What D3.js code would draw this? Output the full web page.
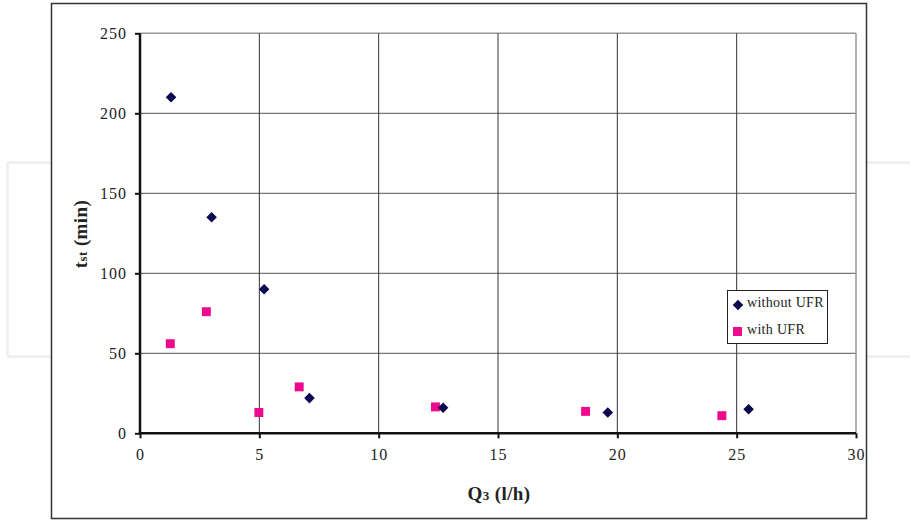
<!DOCTYPE html>
<html><head><meta charset="utf-8">
<script src="https://cdn.jsdelivr.net/npm/d3@7"></script>
<style>body{margin:0;background:#fff}svg{display:block}
text{font-family:"Liberation Serif","Times New Roman",serif}</style>
</head><body>
<svg id="c" width="910" height="520"></svg>
<script>
const xTicks = [0, 5, 10, 15, 20, 25, 30];
const yTicks = [0, 50, 100, 150, 200, 250];
const withoutUFR_x = [1.3, 3.0, 5.2, 7.1, 12.7, 19.6, 25.5];
const withoutUFR_y = [210, 135, 90, 22, 16, 13, 15];
const withUFR_x = [1.27, 2.78, 4.98, 6.67, 12.38, 18.67, 24.38];
const withUFR_y = [56, 76, 13, 29, 16.5, 13.7, 11];
const seriesNames = ["without UFR", "with UFR"];

const svg = d3.select("#c");
const L = 140, R = 856, T = 33.3, B = 433.3;
const x = d3.scaleLinear().domain([0, 30]).range([L, R]);
const y = d3.scaleLinear().domain([0, 250]).range([B, T]);

// faint background panel (page artifact)
svg.append("rect").attr("x", 7.5).attr("y", 162.5).attr("width", 920).attr("height", 194)
  .attr("rx", 2).attr("fill", "#fff").attr("stroke", "#f0f0f0").attr("stroke-width", 3);

// outer chart frame
svg.append("rect").attr("x", 51.5).attr("y", 3.5).attr("width", 815).attr("height", 515)
  .attr("fill", "#fff").attr("stroke", "#333").attr("stroke-width", 1.5);

// gridlines
const g = svg.append("g");
g.selectAll(".hg").data(yTicks.filter(d => d > 0)).join("line")
  .attr("x1", L).attr("x2", R).attr("y1", d => y(d)).attr("y2", d => y(d))
  .attr("stroke", d => d === 250 ? "#999" : "#555").attr("stroke-width", d => d === 250 ? 1.5 : 1);
g.selectAll(".vg").data(xTicks.filter(d => d > 0)).join("line")
  .attr("x1", d => x(d)).attr("x2", d => x(d)).attr("y1", T).attr("y2", B)
  .attr("stroke", d => d === 30 ? "#999" : "#333").attr("stroke-width", d => d === 30 ? 1.5 : 1);

// axes
const xAxis = svg.append("g").attr("transform", `translate(0,${B})`)
  .call(d3.axisBottom(x).tickValues(xTicks).tickSize(5).tickPadding(10).tickSizeOuter(0));
const yAxis = svg.append("g").attr("transform", `translate(${L},0)`)
  .call(d3.axisLeft(y).tickValues(yTicks).tickSize(5).tickPadding(8).tickSizeOuter(0));
[xAxis, yAxis].forEach(a => {
  a.attr("font-family", null).attr("font-size", null);
  a.select(".domain").attr("stroke", "#111").attr("stroke-width", 2.5);
  a.selectAll(".tick line").attr("stroke", "#111").attr("stroke-width", 2);
  a.selectAll(".tick text").style("font-size", "16px")
    .attr("fill", "#222").attr("letter-spacing", 1);
});
xAxis.select(".domain").attr("d", `M${L},0H${R}`);
yAxis.select(".domain").attr("d", `M0,${B}V${T}`);

// axis titles
const xt = svg.append("text").attr("x", 499).attr("y", 500).attr("text-anchor", "middle")
  .attr("font-weight", "bold").style("font-size", "19px").attr("letter-spacing", 0.4).attr("fill", "#222");
xt.append("tspan").text("Q");
xt.append("tspan").style("font-size", "13px").text("3");
xt.append("tspan").text(" (l/h)");

const yt = svg.append("text").attr("transform", "translate(87,234) rotate(-90)").attr("text-anchor", "middle")
  .attr("font-weight", "bold").style("font-size", "19px").attr("letter-spacing", 0.4).attr("fill", "#222");
yt.append("tspan").text("t");
yt.append("tspan").style("font-size", "13px").text("st");
yt.append("tspan").text(" (min)");

// markers
const diaPath = d3.symbol().type(d3.symbolSquare).size(56)();
const sq = d3.symbol().type(d3.symbolSquare).size(80);
const navy = "#0c0850", pink = "#ee0a8c";
svg.append("g").selectAll("path").data(withUFR_x.map((v, i) => [v, withUFR_y[i]])).join("path")
  .attr("d", sq).attr("transform", d => `translate(${x(d[0])},${y(d[1])})`).attr("fill", pink);
svg.append("g").selectAll("path").data(withoutUFR_x.map((v, i) => [v, withoutUFR_y[i]])).join("path")
  .attr("d", diaPath).attr("transform", d => `translate(${x(d[0])},${y(d[1])}) rotate(45)`).attr("fill", navy);

// legend
const lg = svg.append("g");
lg.append("rect").attr("x", 727.5).attr("y", 290.5).attr("width", 100).attr("height", 53)
  .attr("fill", "#fff").attr("stroke", "#222").attr("stroke-width", 1);
lg.append("path").attr("d", diaPath).attr("transform", "translate(738,305) rotate(45)").attr("fill", navy);
lg.append("path").attr("d", sq).attr("transform", "translate(737.5,331.5)").attr("fill", pink);
lg.selectAll("text").data(seriesNames).join("text")
  .attr("x", 747).attr("y", (d, i) => 307 + i * 27)
  .style("font-size", "14px").attr("fill", "#222").attr("letter-spacing", 0.3)
  .text(d => d);
</script>
</body></html>
